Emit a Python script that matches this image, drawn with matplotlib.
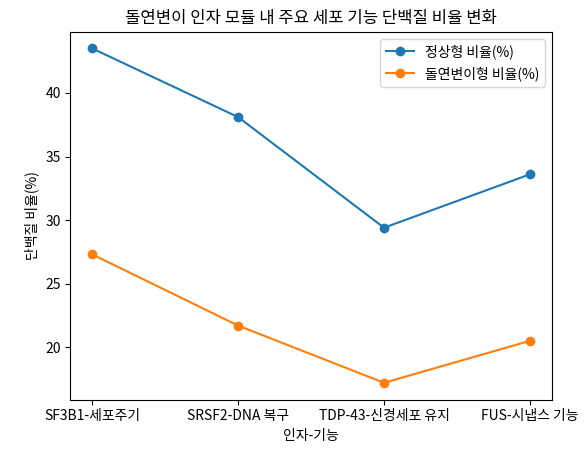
import matplotlib
matplotlib.use("Agg")
import matplotlib.pyplot as plt

plt.rcParams['font.family'] = ['Noto Sans CJK KR', 'DejaVu Sans']

categories = ["SF3B1-세포주기", "SRSF2-DNA 복구", "TDP-43-신경세포 유지", "FUS-시냅스 기능"]
normal = [43.5, 38.1, 29.4, 33.6]
mutant = [27.3, 21.7, 17.2, 20.5]

fig, ax = plt.subplots(figsize=(5.87, 4.54), dpi=100)
ax.plot(categories, normal, marker="o", label="정상형 비율(%)")
ax.plot(categories, mutant, marker="o", label="돌연변이형 비율(%)")
ax.set_title("돌연변이 인자 모듈 내 주요 세포 기능 단백질 비율 변화")
ax.set_xlabel("인자-기능")
ax.set_ylabel("단백질 비율(%)")
ax.legend()
fig.subplots_adjust(left=0.12, right=0.94, top=0.93, bottom=0.12)
fig.savefig("out.png", dpi=100)
